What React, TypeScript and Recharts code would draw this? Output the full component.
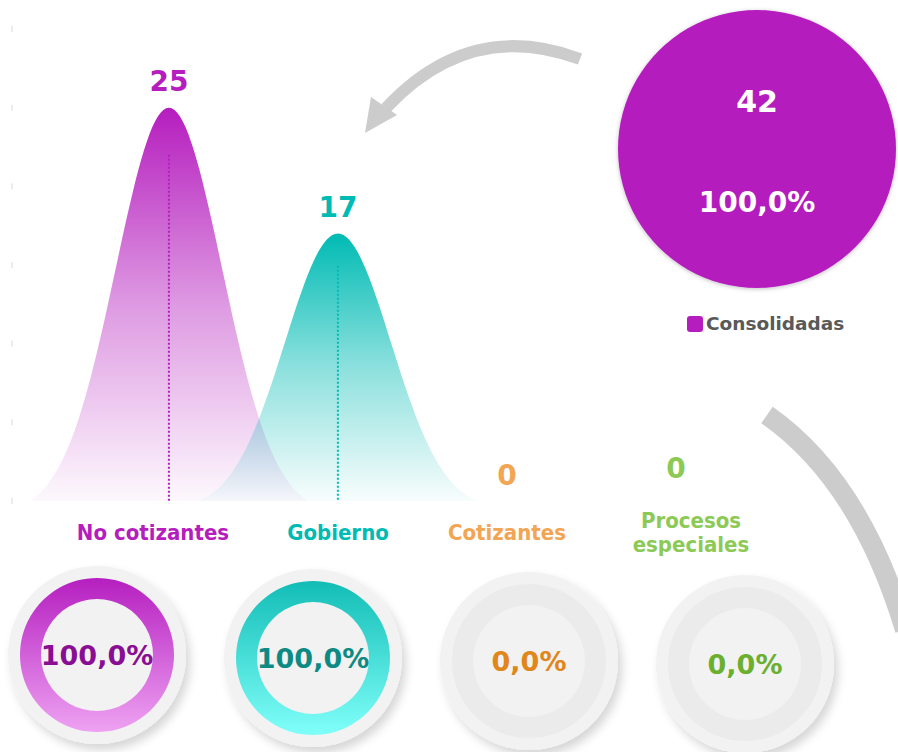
import React from 'react'
import { BarChart, Bar, XAxis, YAxis, LabelList, PieChart, Pie, Cell, Legend } from 'recharts'

const categories = ['No cotizantes', 'Gobierno', 'Cotizantes', 'Procesos especiales']
const counts = [25, 17, 0, 0]
const shares = [100, 100, 0, 0]
const yTicks = [0, 5, 10, 15, 20, 25, 30]
const totalName = 'Consolidadas'
const totalCount = 42
const totalShare = 100

const mainColors = ['#B51DBE', '#00BBB4', '#F2A552', '#8DCA55']
const ringTop = ['#B51FC0', '#12BDB6']
const ringBottom = ['#EEA2F2', '#80FFFA']
const donutText = ['#8A0E94', '#0E8A84', '#E0861A', '#6BAF2E']

const numFont = 'DejaVu Sans, Verdana, sans-serif'
const catFont = 'DejaVu Sans Condensed, DejaVu Sans, sans-serif'

const fmtPct = (v: number) => v.toFixed(1).replace('.', ',') + '%'

const bellData = categories.map((name, i) => ({ name, value: counts[i] }))
const pieData = [{ name: totalName, value: totalCount, share: totalShare }]

// bell shape drawn around the bar's centre, height comes from the bar
function Bell(props: any) {
  const { x, y, width, height, index } = props
  if (!height || height <= 0) return null
  const cx = x + width / 2
  const base = y + height
  const half = 139
  const sigma = 53
  const e0 = Math.exp(-(half * half) / (2 * sigma * sigma))
  const pts: string[] = []
  for (let k = 0; k <= 100; k++) {
    const dx = -half + (2 * half * k) / 100
    const g = (Math.exp(-(dx * dx) / (2 * sigma * sigma)) - e0) / (1 - e0)
    pts.push(`${(cx + dx).toFixed(1)},${(base - height * g).toFixed(1)}`)
  }
  return (
    <g>
      <path d={`M${pts.join('L')}Z`} fill={`url(#bell${index})`} />
      <line
        x1={cx}
        x2={cx}
        y1={y + height * 0.12}
        y2={base}
        stroke={mainColors[index]}
        strokeWidth={2}
        strokeDasharray="2 2"
      />
    </g>
  )
}

function ValueLabel(props: any) {
  const { x, y, width, value, index } = props
  const lift = index === 3 ? 33 : 26
  return (
    <text
      x={x + width / 2}
      y={y - lift}
      textAnchor="middle"
      dominantBaseline="central"
      fill={mainColors[index]}
      fontFamily={numFont}
      fontWeight="bold"
      fontSize={28}
    >
      {value}
    </text>
  )
}

function CategoryTick(props: any) {
  const { x, y, payload } = props
  const name: string = payload.value
  const i = categories.indexOf(name)
  const lines = name.length > 14 ? name.split(' ') : [name]
  const lh = 24
  const cy = y + 23 - ((lines.length - 1) * lh) / 2
  const shift = i === 0 ? -16 : i === 3 ? 15 : 0
  return (
    <text
      textAnchor="middle"
      fill={mainColors[i]}
      fontFamily={catFont}
      fontWeight="bold"
      fontSize={22}
    >
      {lines.map((l, k) => (
        <tspan key={k} x={x + shift} y={cy + k * lh} dominantBaseline="central">
          {l}
        </tspan>
      ))}
    </text>
  )
}

function AxisMark(props: any) {
  const { y } = props
  return <line x1={12} x2={12} y1={y - 3} y2={y + 3} stroke="#D9D9D9" strokeWidth={1} />
}

function BigLabel(props: any) {
  const { cx, cy, payload } = props
  return (
    <g fill="#FFFFFF" fontFamily={numFont} fontWeight="bold" textAnchor="middle">
      <text x={cx} y={cy - 48} fontSize={30} dominantBaseline="central">
        {payload.value}
      </text>
      <text x={cx} y={cy + 53} fontSize={28} dominantBaseline="central">
        {fmtPct(payload.share)}
      </text>
    </g>
  )
}

function LegendBox(props: any) {
  const { payload } = props
  return (
    <div>
      {(payload || []).map((p: any) => (
        <div key={p.value} style={{ display: 'flex', alignItems: 'center' }}>
          <span
            style={{
              width: 16,
              height: 16,
              borderRadius: 3,
              background: '#B51DBE',
              display: 'inline-block',
              marginRight: 3,
            }}
          />
          <span style={{ fontFamily: numFont, fontWeight: 'bold', fontSize: 18.5, color: '#595959' }}>
            {p.value}
          </span>
        </div>
      ))}
    </div>
  )
}

function DonutLabel(props: any) {
  const { cx, cy, payload } = props
  return (
    <text
      x={cx}
      y={cy}
      textAnchor="middle"
      dominantBaseline="central"
      fill={donutText[payload.idx]}
      fontFamily={numFont}
      fontWeight="bold"
      fontSize={27}
    >
      {fmtPct(payload.share)}
    </text>
  )
}

export default function App() {
  return (
    <div
      style={{
        position: 'absolute',
        left: 0,
        top: 0,
        width: 898,
        height: 752,
        background: '#FFFFFF',
        overflow: 'hidden',
      }}
    >
      <svg width={898} height={752} style={{ position: 'absolute', left: 0, top: 0 }}>
        <path d="M580 59 Q470 18 386 108" stroke="#CCCCCC" strokeWidth={12} fill="none" />
        <polygon points="365,133 371,97 397,115" fill="#CCCCCC" />
        <path d="M767 415 Q860 480 905 630" stroke="#CCCCCC" strokeWidth={20} fill="none" />
      </svg>

      <div style={{ position: 'absolute', left: 0, top: 560 }}>
        <PieChart width={898} height={192} margin={{ top: 0, right: 0, bottom: 0, left: 0 }}>
          <defs>
            <filter id="discShadow" x="-20%" y="-20%" width="150%" height="150%">
              <feDropShadow dx="4" dy="6" stdDeviation="5" floodColor="#000" floodOpacity="0.16" />
            </filter>
            {[0, 1].map((i) => (
              <linearGradient key={i} id={`ring${i}`} x1="0" y1="0" x2="0" y2="1">
                <stop offset="0%" stopColor={ringTop[i]} />
                <stop offset="100%" stopColor={ringBottom[i]} />
              </linearGradient>
            ))}
          </defs>
          {categories.map((name, i) => (
            <Pie
              key={`bg${i}`}
              data={[{ name, value: 1, share: shares[i], idx: i }]}
              dataKey="value"
              cx={97 + i * 216}
              cy={95 + i * 3}
              outerRadius={89}
              startAngle={90}
              endAngle={-270}
              stroke="none"
              label={<DonutLabel />}
              labelLine={false}
              isAnimationActive={false}
            >
              <Cell fill="#F2F2F2" filter="url(#discShadow)" />
            </Pie>
          ))}
          {categories.map((name, i) => (
            <Pie
              key={`ring${i}`}
              data={[
                { name, value: shares[i] },
                { name: 'resto', value: 100 - shares[i] },
              ]}
              dataKey="value"
              cx={97 + i * 216}
              cy={95 + i * 3}
              innerRadius={56}
              outerRadius={77}
              startAngle={90}
              endAngle={-270}
              stroke="none"
              isAnimationActive={false}
            >
              <Cell fill={i < 2 ? `url(#ring${i})` : mainColors[i]} />
              <Cell fill="#EBEBEB" />
            </Pie>
          ))}
        </PieChart>
      </div>

      <div style={{ position: 'absolute', left: 0, top: 0 }}>
        <BarChart
          width={898}
          height={590}
          data={bellData}
          margin={{ top: 29, right: 0, bottom: 0, left: 0 }}
        >
          <defs>
            {[0, 1].map((i) => (
              <linearGradient key={i} id={`bell${i}`} x1="0" y1="0" x2="0" y2="1">
                <stop offset="0%" stopColor={mainColors[i]} stopOpacity={1} />
                <stop offset="50%" stopColor={mainColors[i]} stopOpacity={0.45} />
                <stop offset="100%" stopColor={mainColors[i]} stopOpacity={0.03} />
              </linearGradient>
            ))}
          </defs>
          <XAxis
            dataKey="name"
            axisLine={false}
            tickLine={false}
            interval={0}
            height={89}
            padding={{ left: 72.5, right: 137.5 }}
            tick={<CategoryTick />}
          />
          <YAxis
            width={12}
            domain={[0, 30]}
            ticks={yTicks}
            axisLine={false}
            tickLine={false}
            tick={<AxisMark />}
          />
          <Bar dataKey="value" shape={<Bell />} isAnimationActive={false}>
            <LabelList dataKey="value" content={<ValueLabel />} />
          </Bar>
        </BarChart>
      </div>

      <div style={{ position: 'absolute', left: 600, top: 0 }}>
        <PieChart width={298} height={340} margin={{ top: 0, right: 0, bottom: 0, left: 0 }}>
          <defs>
            <filter id="bigShadow" x="-10%" y="-10%" width="120%" height="120%">
              <feDropShadow dx="0" dy="1" stdDeviation="2" floodColor="#000" floodOpacity="0.25" />
            </filter>
          </defs>
          <Pie
            data={pieData}
            dataKey="value"
            nameKey="name"
            cx={157}
            cy={149}
            outerRadius={139}
            startAngle={90}
            endAngle={-270}
            stroke="none"
            label={<BigLabel />}
            labelLine={false}
            isAnimationActive={false}
          >
            <Cell fill="#B51DBE" filter="url(#bigShadow)" />
          </Pie>
          <Legend
            content={<LegendBox />}
            wrapperStyle={{ left: 87, top: 313, width: 'auto', bottom: 'auto' }}
          />
        </PieChart>
      </div>
    </div>
  )
}
